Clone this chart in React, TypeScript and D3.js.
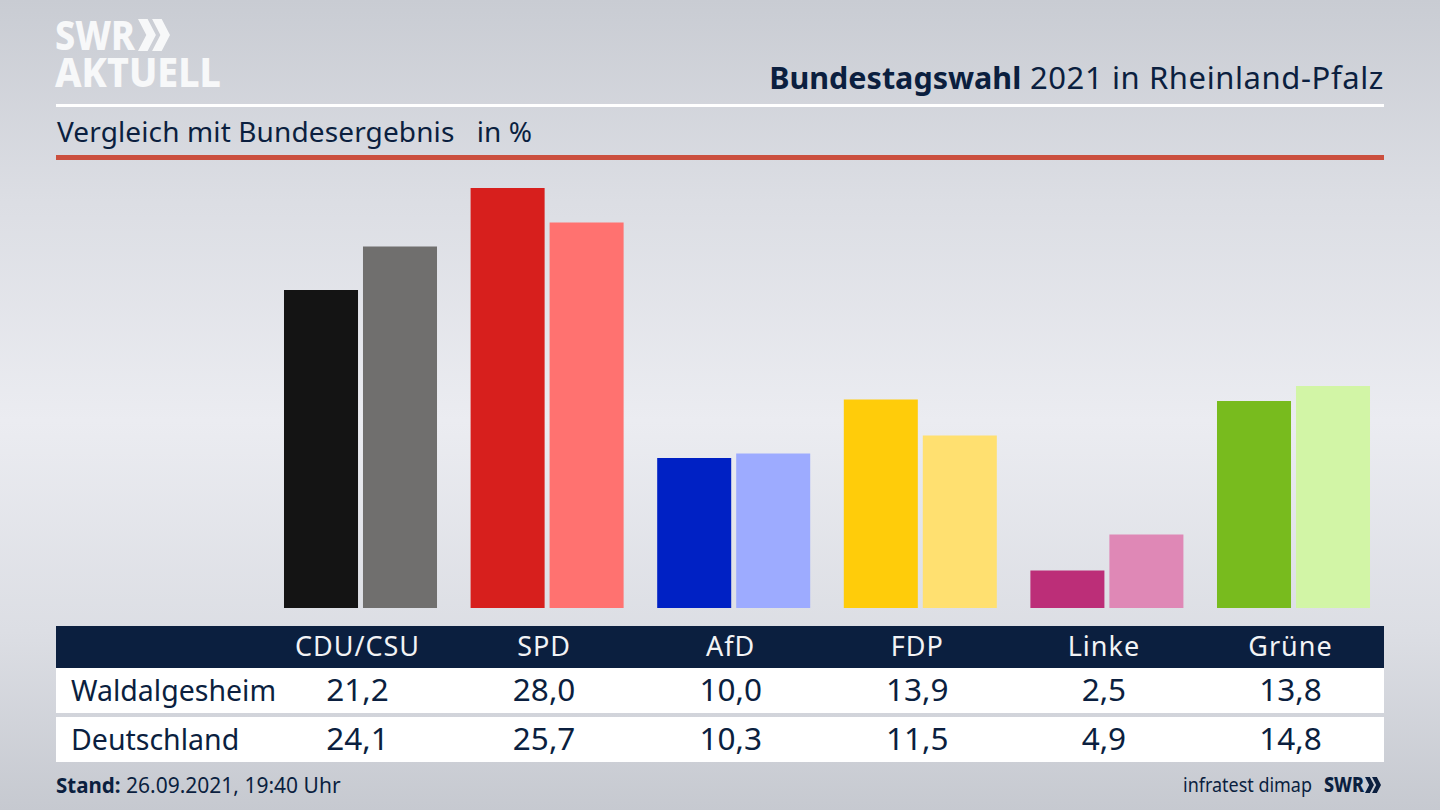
import React, { useEffect, useRef } from 'react'
import * as d3 from 'd3'

const parties = ['CDU/CSU', 'SPD', 'AfD', 'FDP', 'Linke', 'Grüne']
const regions = ['Waldalgesheim', 'Deutschland']
const waldalgesheim = [21.2, 28.0, 10.0, 13.9, 2.5, 13.8]
const deutschland = [24.1, 25.7, 10.3, 11.5, 4.9, 14.8]
const darkColors = ['#141414', '#d71f1d', '#0021c4', '#ffcc0a', '#bc2e78', '#78bb1e']
const lightColors = ['#706f6e', '#ff7270', '#9dabff', '#ffe070', '#df88b6', '#d2f5a6']

const NAVY = '#0b1f3f'
const FONT = '"Noto Sans", sans-serif'
const fmt = (v: number) => v.toFixed(1).replace('.', ',')

// double chevron used in both SWR logos
function chevrons(g: any, x: number, y: number, h: number, fill: string) {
  const w = h * 0.26
  const t = h * 0.3
  ;[0, h * 0.44].forEach(dx => {
    g.append('path')
      .attr('d', `M${x + dx},${y}L${x + dx + t},${y}L${x + dx + t + w},${y + h / 2}L${x + dx + t},${y + h}L${x + dx},${y + h}L${x + dx + w},${y + h / 2}Z`)
      .attr('fill', fill)
  })
}

export default function App() {
  const svgRef = useRef<SVGSVGElement>(null)

  useEffect(() => {
    if (!svgRef.current) return
    const svg = d3.select(svgRef.current)
    svg.selectAll('*').remove()

    const defs = svg.append('defs')
    const bg = defs.append('linearGradient').attr('id', 'bg').attr('x1', 0).attr('y1', 0).attr('x2', 0).attr('y2', 1)
    bg.append('stop').attr('offset', '0%').attr('stop-color', '#c9ccd3')
    bg.append('stop').attr('offset', '25%').attr('stop-color', '#dcdee4')
    bg.append('stop').attr('offset', '52%').attr('stop-color', '#ebecf1')
    bg.append('stop').attr('offset', '78%').attr('stop-color', '#dcdee4')
    bg.append('stop').attr('offset', '100%').attr('stop-color', '#c6c9d0')
    svg.append('rect').attr('width', 1440).attr('height', 810).attr('fill', 'url(#bg)')

    // Header
    const logo = svg.append('g').attr('fill', '#f7f8f9').style('font-family', FONT).style('font-weight', 800)
    logo.append('text').attr('x', 55).attr('y', 50).attr('font-size', 41).attr('textLength', 80).attr('lengthAdjust', 'spacingAndGlyphs').text('SWR')
    chevrons(logo, 138, 19, 32, '#f7f8f9')
    logo.append('text').attr('x', 55).attr('y', 87).attr('font-size', 41).attr('textLength', 166).attr('lengthAdjust', 'spacingAndGlyphs').text('AKTUELL')

    const title = svg.append('text').attr('x', 1384).attr('y', 89).attr('text-anchor', 'end')
      .attr('font-size', 31).attr('fill', NAVY).style('font-family', FONT)
    title.append('tspan').attr('font-weight', 700).attr('font-size', 30.5).text('Bundestagswahl')
    title.append('tspan').attr('letter-spacing', 0.6).text(' 2021 in Rheinland-Pfalz')

    svg.append('rect').attr('x', 56).attr('y', 104).attr('width', 1328).attr('height', 3).attr('fill', '#ffffff')
    svg.append('text').attr('x', 57).attr('y', 142).attr('font-size', 28).attr('fill', NAVY).style('font-family', FONT)
      .attr('letter-spacing', 0.12).style('white-space', 'pre').text('Vergleich mit Bundesergebnis   in %')
    svg.append('rect').attr('x', 56).attr('y', 155).attr('width', 1328).attr('height', 5).attr('fill', '#cb4f3e')

    // Bars
    const x = d3.scaleBand().domain(parties).range([267.2, 1386.8]).paddingInner(0.18).paddingOuter(0.09)
    const y = d3.scaleLinear().domain([0, 28]).range([608, 188])
    const inner = d3.scaleBand().domain(regions).range([0, x.bandwidth()]).paddingInner(0.063)

    const groups = svg.selectAll('.party').data(parties).enter().append('g').attr('class', 'party')
      .attr('transform', d => `translate(${x(d)},0)`)
    groups.append('rect')
      .attr('x', inner(regions[0])!).attr('width', inner.bandwidth())
      .attr('y', (_, i) => y(waldalgesheim[i])).attr('height', (_, i) => y(0) - y(waldalgesheim[i]))
      .attr('fill', (_, i) => darkColors[i])
    groups.append('rect')
      .attr('x', inner(regions[1])!).attr('width', inner.bandwidth())
      .attr('y', (_, i) => y(deutschland[i])).attr('height', (_, i) => y(0) - y(deutschland[i]))
      .attr('fill', (_, i) => lightColors[i])

    // Table
    svg.append('rect').attr('x', 56).attr('y', 626).attr('width', 1328).attr('height', 42).attr('fill', NAVY)
    svg.append('rect').attr('x', 56).attr('y', 668).attr('width', 1328).attr('height', 45).attr('fill', '#ffffff')
    svg.append('rect').attr('x', 56).attr('y', 717).attr('width', 1328).attr('height', 45).attr('fill', '#ffffff')

    const cx = (p: string) => x(p)! + x.bandwidth() / 2 - 3
    svg.selectAll('.head').data(parties).enter().append('text').attr('class', 'head')
      .attr('x', d => cx(d)).attr('y', 656).attr('text-anchor', 'middle')
      .attr('font-size', 27).attr('letter-spacing', 1).attr('fill', '#f2f3f5').style('font-family', FONT).text(d => d)

    ;[waldalgesheim, deutschland].forEach((vals, r) => {
      const rowY = [701, 750][r]
      svg.append('text').attr('x', 71).attr('y', rowY).attr('font-size', 28.5).attr('fill', NAVY)
        .style('font-family', FONT).text(regions[r])
      svg.selectAll(`.row${r}`).data(vals).enter().append('text').attr('class', `row${r}`)
        .attr('x', (_, i) => cx(parties[i])).attr('y', rowY).attr('text-anchor', 'middle')
        .attr('font-size', 31.5).attr('fill', NAVY).style('font-family', FONT).text(d => fmt(d))
    })

    // Footer
    const stand = svg.append('text').attr('x', 56).attr('y', 793).attr('font-size', 21).attr('fill', NAVY).style('font-family', FONT)
    stand.append('tspan').attr('font-weight', 700).attr('font-size', 20.5).text('Stand:')
    stand.append('tspan').text(' 26.09.2021, 19:40 Uhr')

    svg.append('text').attr('x', 1183).attr('y', 792).attr('font-size', 20).attr('fill', NAVY)
      .attr('textLength', 129).attr('lengthAdjust', 'spacingAndGlyphs')
      .style('font-family', FONT).text('infratest dimap')
    const small = svg.append('g')
    small.append('text').attr('x', 1324).attr('y', 792).attr('font-size', 21).attr('font-weight', 800).attr('fill', NAVY)
      .attr('textLength', 40).attr('lengthAdjust', 'spacingAndGlyphs').style('font-family', FONT).text('SWR')
    chevrons(small, 1365, 777, 16, NAVY)
  }, [])

  return <svg ref={svgRef} width={1440} height={810} style={{ position: 'absolute', left: 0, top: 0, display: 'block' }} />
}
